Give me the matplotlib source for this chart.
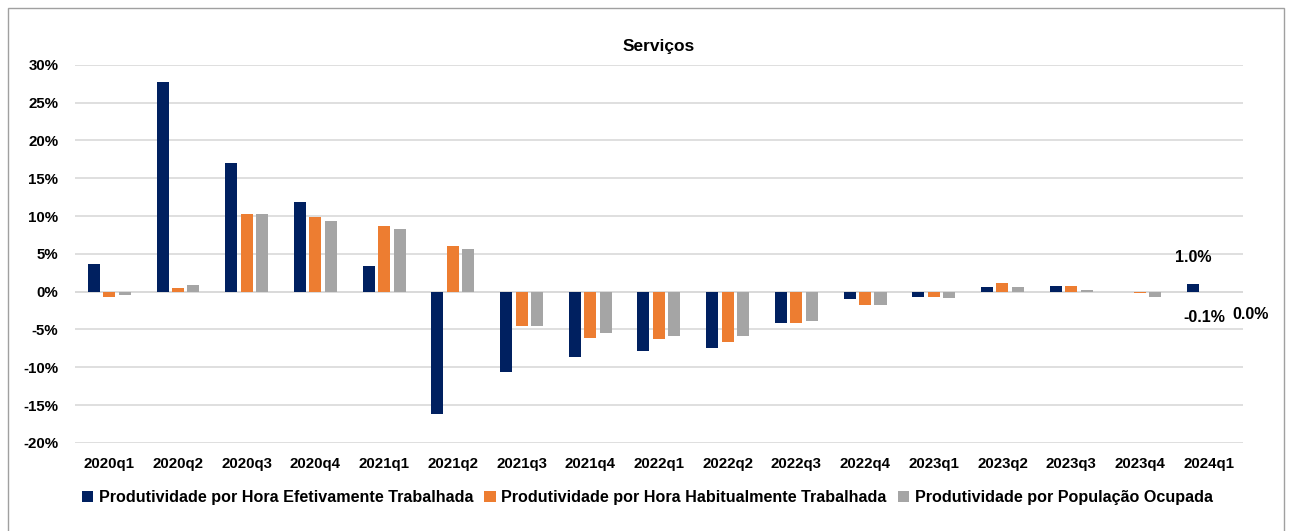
import matplotlib
matplotlib.use("Agg")
import matplotlib.pyplot as plt
import numpy as np
from matplotlib.patches import Rectangle

plt.rcParams['font.family'] = ['Liberation Sans', 'DejaVu Sans']

categories = ["2020q1", "2020q2", "2020q3", "2020q4", "2021q1", "2021q2", "2021q3", "2021q4",
              "2022q1", "2022q2", "2022q3", "2022q4", "2023q1", "2023q2", "2023q3", "2023q4", "2024q1"]
efetiva = [3.7, 27.7, 17.0, 11.9, 3.4, -16.2, -10.6, -8.7, -7.8, -7.4, -4.2, -1.0, -0.7, 0.6, 0.7, 0.0, 1.0]
habitual = [-0.7, 0.5, 10.2, 9.9, 8.7, 6.1, -4.6, -6.1, -6.3, -6.6, -4.1, -1.8, -0.7, 1.1, 0.7, -0.2, -0.1]
ocupada = [-0.5, 0.9, 10.3, 9.4, 8.3, 5.7, -4.5, -5.5, -5.9, -5.9, -3.9, -1.8, -0.8, 0.6, 0.2, -0.7, 0.0]
series_names = ["Produtividade por Hora Efetivamente Trabalhada",
                "Produtividade por Hora Habitualmente Trabalhada",
                "Produtividade por População Ocupada"]
colors = ["#002060", "#ED7D31", "#A5A5A5"]
yticks = [-20, -15, -10, -5, 0, 5, 10, 15, 20, 25, 30]

fig = plt.figure(figsize=(12.92, 5.31), dpi=100)
ax = fig.add_axes([0.058, 0.166, 0.904, 0.712])

x = np.arange(len(categories))
w = 0.175
step = 0.225
for i, (vals, c, name) in enumerate(zip([efetiva, habitual, ocupada], colors, series_names)):
    ax.bar(x + (i - 1) * step, vals, width=w, color=c, label=name, zorder=3)

fs = 10.8
ax.set_ylim(-20, 30)
ax.set_xlim(-0.5, len(categories) - 0.5)
ax.set_yticks(yticks)
ax.set_yticklabels([f"{t}%" for t in yticks], fontsize=fs, fontweight='bold')
ax.set_xticks(x)
ax.set_xticklabels(categories, fontsize=fs, fontweight='bold')
ax.tick_params(axis='both', length=0)
ax.tick_params(axis='y', pad=12)
ax.xaxis.set_tick_params(pad=10)
ax.grid(axis='y', color='#D9D9D9', linewidth=1.2, zorder=0)
for s in ax.spines.values():
    s.set_visible(False)
ax.axhline(0, color='#D9D9D9', linewidth=1.2, zorder=1)

ax.set_title("Serviços", fontsize=12.5, fontweight='bold', pad=10)

# data labels for last period
lfs = 11.5
last = len(categories) - 1
ax.annotate(f"{efetiva[last]:.1f}%", (x[last] - step, efetiva[last]), xytext=(0, 14),
            textcoords='offset points', ha='center', va='bottom', fontsize=lfs, fontweight='bold')
ax.annotate(f"{habitual[last]:.1f}%", (x[last], habitual[last]), xytext=(-3, -13),
            textcoords='offset points', ha='center', va='top', fontsize=lfs, fontweight='bold')
ax.annotate(f"{ocupada[last]:.1f}%", (x[last] + step, ocupada[last]), xytext=(19, -11),
            textcoords='offset points', ha='center', va='top', fontsize=lfs, fontweight='bold',
            annotation_clip=False)

leg = fig.legend(loc='lower left', bbox_to_anchor=(0.052, 0.022), ncol=3, frameon=False,
                 prop={'weight': 'bold', 'size': 11.6}, handlelength=0.7,
                 handleheight=0.7, columnspacing=0.7, handletextpad=0.35)

fig.add_artist(Rectangle((0.006, -0.01), 0.988, 0.995, transform=fig.transFigure,
                         fill=False, edgecolor='#A0A0A0', linewidth=1))

fig.savefig("out.png", dpi=100)
